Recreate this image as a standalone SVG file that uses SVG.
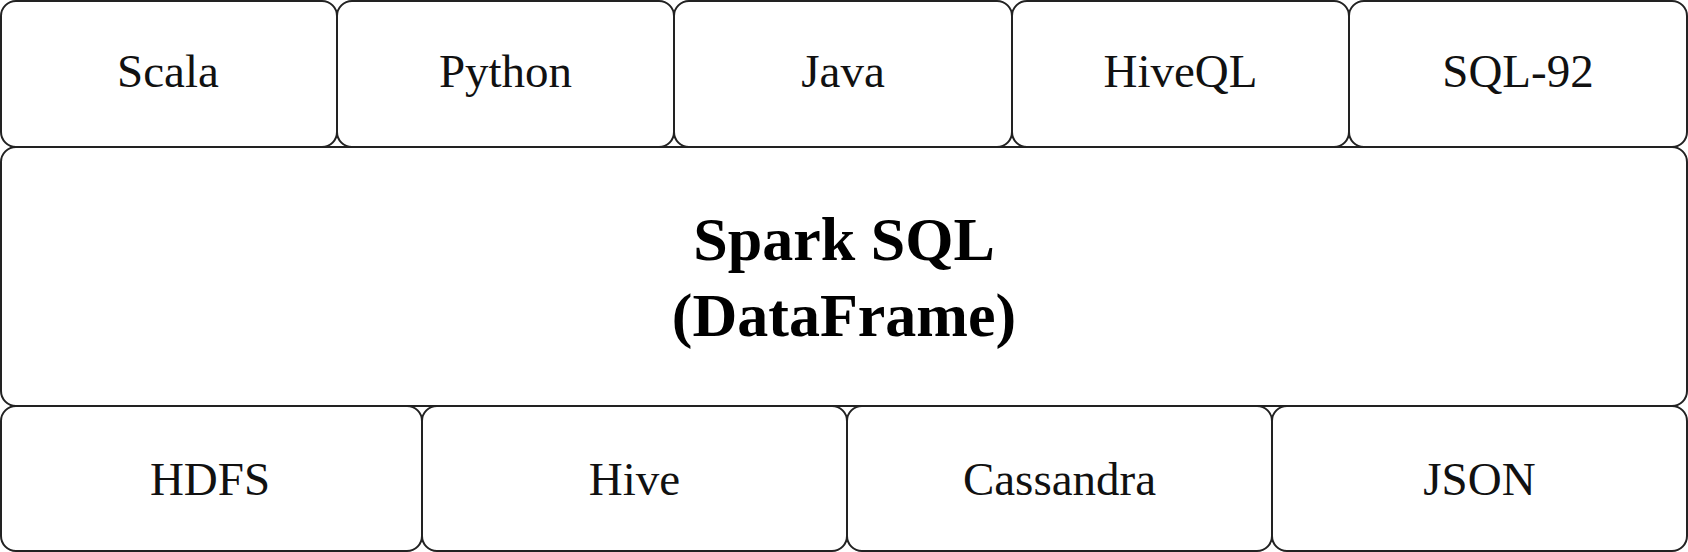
<svg xmlns="http://www.w3.org/2000/svg" width="1688" height="552" viewBox="0 0 1688 552">
<style>
.box{fill:#fff;stroke:#222;stroke-width:2}
.lbl{font-family:"Liberation Serif","Times New Roman",serif;font-size:47px;fill:#111;text-anchor:middle}
.big{font-family:"Liberation Serif","Times New Roman",serif;font-size:62px;font-weight:bold;fill:#000;text-anchor:middle}
</style>
<rect width="1688" height="552" fill="#fff"/>
<g id="spark-sql">
<rect class="box" x="1" y="147" width="1686" height="259" rx="15" ry="15"/>
<text class="big" x="844" y="260">Spark SQL</text>
<text class="big" x="844" y="336">(DataFrame)</text>
</g>
<g id="scala"><rect class="box" x="1" y="1" width="336" height="146" rx="15" ry="15"/><text class="lbl" x="168" y="87">Scala</text></g>
<g id="python"><rect class="box" x="337" y="1" width="337" height="146" rx="15" ry="15"/><text class="lbl" x="505.5" y="87">Python</text></g>
<g id="java"><rect class="box" x="674" y="1" width="338" height="146" rx="15" ry="15"/><text class="lbl" x="843" y="87">Java</text></g>
<g id="hiveql"><rect class="box" x="1012" y="1" width="337" height="146" rx="15" ry="15"/><text class="lbl" x="1180.5" y="87">HiveQL</text></g>
<g id="sql92"><rect class="box" x="1349" y="1" width="338" height="146" rx="15" ry="15"/><text class="lbl" x="1518" y="87">SQL-92</text></g>
<g id="hdfs"><rect class="box" x="1" y="406" width="421" height="145" rx="15" ry="15"/><text class="lbl" x="210" y="495">HDFS</text></g>
<g id="hive"><rect class="box" x="422" y="406" width="425" height="145" rx="15" ry="15"/><text class="lbl" x="634.5" y="495">Hive</text></g>
<g id="cassandra"><rect class="box" x="847" y="406" width="425" height="145" rx="15" ry="15"/><text class="lbl" x="1059.5" y="495">Cassandra</text></g>
<g id="json"><rect class="box" x="1272" y="406" width="415" height="145" rx="15" ry="15"/><text class="lbl" x="1479.5" y="495">JSON</text></g>
<g id="connectors"></g>
</svg>
